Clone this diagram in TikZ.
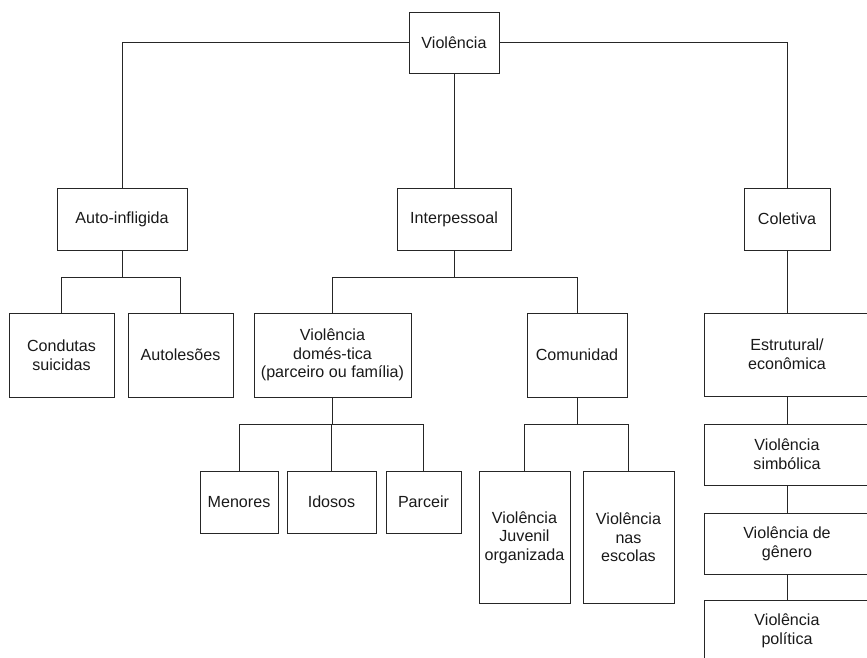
\documentclass[tikz,border=0pt]{standalone}
\usepackage{fontspec}
\setmainfont{Liberation Sans}
\usetikzlibrary{positioning}

\begin{document}
\begin{tikzpicture}[
    x=1pt, y=-1pt,
    box/.style={draw=black!85, line width=1pt, inner sep=0pt, align=center, font=\fontsize{16.1}{18.6}\selectfont, text=black!90},
    link/.style={draw=black!85, line width=1pt}
]
\useasboundingbox (0,0) rectangle (867,657);

\node[box, minimum width=90pt, minimum height=61pt] (viol) at (454,42.5) {Violência};

\node[box, minimum width=130pt, minimum height=62pt] (auto) at (122,219) {Auto-infligida};
\node[box, minimum width=114pt, minimum height=62pt] (inter) at (454,219) {Interpessoal};
\node[box, minimum width=86pt, minimum height=62pt] (colet) at (787,219) {Coletiva};

\node[box, minimum width=105pt, minimum height=84pt] (cond) at (61.5,355) {Condutas\\suicidas};
\node[box, minimum width=105pt, minimum height=84pt] (autol) at (180.5,355) {Autolesões};
\node[box, minimum width=157pt, minimum height=84pt] (domest) at (332.5,355) {Violência\\domés-tica\\(parceiro ou família)};
\node[box, minimum width=100pt, minimum height=84pt] (comun) at (577,355) {Comunidad};

\node[box, minimum width=78pt, minimum height=62pt] (menor) at (239,502) {Menores};
\node[box, minimum width=89pt, minimum height=62pt] (idoso) at (331.5,502) {Idosos};
\node[box, minimum width=75pt, minimum height=62pt] (parc) at (423.5,502) {Parceir};
\node[box, minimum width=91pt, minimum height=132pt] (juven) at (524.5,537.5) {Violência\\Juvenil\\organizada};
\node[box, minimum width=91pt, minimum height=132pt] (escol) at (628.5,537.5) {Violência\\nas\\escolas};

\node[box, minimum width=166pt, minimum height=83pt] (estru) at (787,354.5) {Estrutural/\\econômica};
\node[box, minimum width=166pt, minimum height=61pt] (simbo) at (787,454.5) {Violência\\simbólica};
\node[box, minimum width=166pt, minimum height=61pt] (gener) at (787,543.5) {Violência de\\gênero};
\node[box, minimum width=166pt, minimum height=61pt] (polit) at (787,631) {Violência\\política};

\draw[link] (viol.west) -| (auto.north);
\draw[link] (viol.east) -| (colet.north);
\draw[link] (viol.south) -- (inter.north);

\draw[link] (auto.south) -- ++(0,27) -| (cond.north);
\draw[link] (auto.south) -- ++(0,27) -| (autol.north);

\draw[link] (inter.south) -- ++(0,27) -| (domest.north);
\draw[link] (inter.south) -- ++(0,27) -| (comun.north);

\draw[link] (domest.south) -- ++(0,27) -| (menor.north);
\draw[link] (domest.south) -- ++(0,27) -| (idoso.north);
\draw[link] (domest.south) -- ++(0,27) -| (parc.north);

\draw[link] (comun.south) -- ++(0,27) -| (juven.north);
\draw[link] (comun.south) -- ++(0,27) -| (escol.north);

\draw[link] (colet.south) -- (estru.north);
\draw[link] (estru.south) -- (simbo.north);
\draw[link] (simbo.south) -- (gener.north);
\draw[link] (gener.south) -- (polit.north);
\end{tikzpicture}
\end{document}
